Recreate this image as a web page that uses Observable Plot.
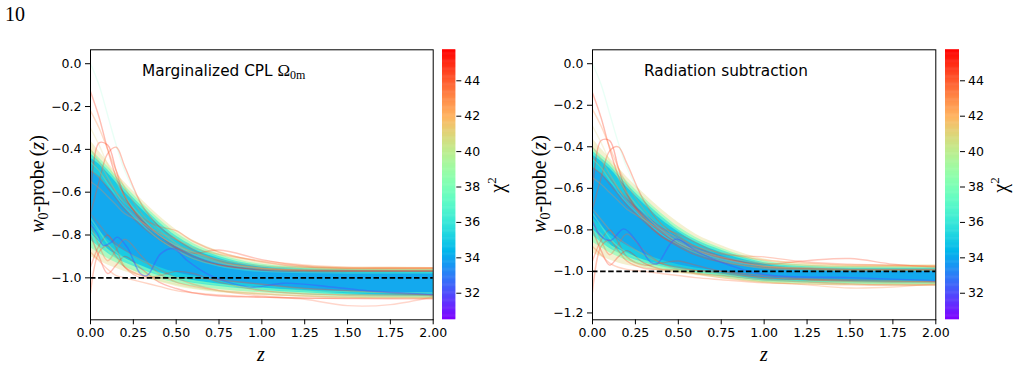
<!DOCTYPE html>
<html>
<head>
<meta charset="utf-8">
<script src="https://cdn.jsdelivr.net/npm/d3@7"></script>
<script src="https://cdn.jsdelivr.net/npm/@observablehq/plot@0.6"></script>
<style>
  body { margin: 0; background: #fff; }
  #page { position: relative; width: 1015px; height: 390px; overflow: hidden; background: #fff; }
  #page > svg { position: absolute; top: 0; }
</style>
</head>
<body>
<div id="page"></div>
<script>
// ---- shared grids and scales ----
const Z_GRID = [0, 0.05, 0.1, 0.15, 0.2, 0.3, 0.4, 0.5, 0.6, 0.75, 1.0, 1.25, 1.5, 1.75, 2.0];
const Z_TICKS = [0, 0.25, 0.5, 0.75, 1, 1.25, 1.5, 1.75, 2];
const CHI2_DOMAIN = [30.5, 45.75];
const CHI2_TICKS = [32, 34, 36, 38, 40, 42, 44];
const W_TICKS_CPL = [0, -0.2, -0.4, -0.6, -0.8, -1.0];
const W_TICKS_RAD = [0, -0.2, -0.4, -0.6, -0.8, -1.0, -1.2];

// density bands of the sample, outermost (worst fit) to innermost (best fit)
const BAND_CHI2 = [41, 38, 36, 34.8, 33.8];
const BAND_ALPHA = [0.35, 0.6, 0.75, 0.85, 0.8];

// ---- Marginalized CPL Omega_0m ----
const cplFringeHi = [-0.36, -0.41, -0.46, -0.51, -0.555, -0.635, -0.71, -0.775, -0.825, -0.875, -0.925, -0.944, -0.95, -0.951, -0.952];
const cplFringeLo = [-0.90, -0.92, -0.94, -0.955, -0.97, -0.995, -1.02, -1.04, -1.055, -1.07, -1.082, -1.09, -1.096, -1.098, -1.1];
const cplGreenHi  = [-0.40, -0.44, -0.48, -0.525, -0.57, -0.65, -0.725, -0.79, -0.84, -0.89, -0.937, -0.951, -0.957, -0.959, -0.96];
const cplGreenLo  = [-0.86, -0.885, -0.91, -0.93, -0.95, -0.98, -1.005, -1.025, -1.04, -1.055, -1.07, -1.08, -1.088, -1.092, -1.094];
const cplCyanHi   = [-0.42, -0.455, -0.495, -0.54, -0.585, -0.665, -0.74, -0.805, -0.852, -0.9, -0.944, -0.957, -0.962, -0.964, -0.965];
const cplCyanLo   = [-0.825, -0.855, -0.885, -0.91, -0.93, -0.962, -0.99, -1.01, -1.025, -1.04, -1.058, -1.07, -1.08, -1.085, -1.088];
const cplBlueHi   = [-0.44, -0.47, -0.51, -0.555, -0.60, -0.68, -0.755, -0.82, -0.865, -0.91, -0.95, -0.962, -0.966, -0.968, -0.969];
const cplBlueLo   = [-0.79, -0.83, -0.865, -0.89, -0.91, -0.945, -0.975, -0.997, -1.012, -1.03, -1.047, -1.062, -1.074, -1.08, -1.083];
const cplCoreHi   = [-0.50, -0.535, -0.575, -0.615, -0.655, -0.73, -0.795, -0.85, -0.89, -0.93, -0.962, -0.973, -0.977, -0.979, -0.98];
const cplCoreLo   = [-0.74, -0.78, -0.82, -0.85, -0.875, -0.915, -0.95, -0.975, -0.992, -1.012, -1.035, -1.052, -1.064, -1.07, -1.073];

const cplCurves = [
  {chi2: 44.5, alpha: 0.35, w: [-0.13, -0.25, -0.40, -0.53, -0.62, -0.74, -0.82, -0.87, -0.91, -0.94, -0.96, -0.965, -0.965, -0.965, -0.965]},
  {chi2: 37.5, alpha: 0.15, w: [0.0, -0.10, -0.24, -0.38, -0.50, -0.66, -0.77, -0.84, -0.89, -0.93, -0.96, -0.97, -0.975, -0.975, -0.975]},
  {chi2: 44.8, alpha: 0.35, w: [-0.62, -0.37, -0.38, -0.50, -0.62, -0.73, -0.80, -0.86, -0.90, -0.94, -0.965, -0.97, -0.97, -0.97, -0.97]},
  {chi2: 44.2, alpha: 0.35, w: [-0.70, -0.55, -0.42, -0.39, -0.48, -0.66, -0.76, -0.82, -0.87, -0.92, -0.955, -0.965, -0.968, -0.968, -0.968]},
  {chi2: 43.0, alpha: 0.3, w: [-0.22, -0.30, -0.40, -0.50, -0.58, -0.70, -0.78, -0.84, -0.88, -0.925, -0.955, -0.962, -0.963, -0.963, -0.963]},
  {chi2: 44.0, alpha: 0.3, w: [-0.45, -0.50, -0.55, -0.60, -0.64, -0.72, -0.76, -0.78, -0.83, -0.88, -0.925, -0.95, -0.955, -0.955, -0.955]},
  {chi2: 44.5, alpha: 0.3, w: [-0.50, -0.53, -0.58, -0.63, -0.68, -0.76, -0.82, -0.86, -0.885, -0.87, -0.915, -0.945, -0.955, -0.955, -0.955]},
  {chi2: 44.0, alpha: 0.35, w: [-1.07, -0.88, -0.85, -0.90, -0.95, -0.99, -1.0, -1.0, -1.0, -1.01, -1.03, -1.05, -1.06, -1.07, -1.08]},
  {chi2: 45.0, alpha: 0.3, w: [-0.80, -0.90, -0.98, -0.94, -0.90, -0.96, -1.02, -1.05, -1.07, -1.085, -1.09, -1.095, -1.097, -1.098, -1.098]},
  {chi2: 44.0, alpha: 0.25, w: [-0.70, -0.75, -0.80, -0.84, -0.87, -0.92, -0.96, -1.0, -1.03, -1.06, -1.085, -1.1, -1.13, -1.125, -1.088]},
  {chi2: 43.5, alpha: 0.3, w: [-0.88, -0.92, -0.96, -0.99, -1.0, -1.02, -1.04, -1.06, -1.07, -1.08, -1.09, -1.095, -1.095, -1.095, -1.095]},
  {chi2: 42.5, alpha: 0.3, w: [-0.40, -0.46, -0.53, -0.60, -0.66, -0.74, -0.80, -0.85, -0.88, -0.915, -0.945, -0.952, -0.955, -0.955, -0.955]},
  {chi2: 41.0, alpha: 0.25, w: [-0.30, -0.38, -0.47, -0.55, -0.62, -0.72, -0.80, -0.85, -0.89, -0.93, -0.955, -0.96, -0.96, -0.96, -0.96]},
  {chi2: 44.5, alpha: 0.3, w: [-0.95, -0.85, -0.80, -0.86, -0.95, -1.0, -0.99, -0.97, -0.98, -1.02, -1.06, -1.075, -1.08, -1.08, -1.08]},
  {chi2: 43.8, alpha: 0.3, w: [-0.75, -0.85, -0.92, -0.87, -0.82, -0.90, -0.98, -1.02, -1.04, -1.06, -1.075, -1.085, -1.09, -1.09, -1.09]},
  {chi2: 43.0, alpha: 0.3, w: [-0.55, -0.58, -0.62, -0.66, -0.70, -0.74, -0.79, -0.82, -0.86, -0.89, -0.92, -0.94, -0.95, -0.952, -0.953]},
  {chi2: 40.0, alpha: 0.3, w: [-0.78, -0.82, -0.87, -0.91, -0.94, -0.98, -1.01, -1.03, -1.045, -1.06, -1.075, -1.085, -1.09, -1.092, -1.092]},
  {chi2: 37.0, alpha: 0.35, w: [-0.46, -0.50, -0.56, -0.62, -0.67, -0.75, -0.82, -0.87, -0.91, -0.945, -0.97, -0.975, -0.978, -0.978, -0.978]},
  {chi2: 38.5, alpha: 0.35, w: [-0.72, -0.78, -0.84, -0.88, -0.91, -0.95, -0.98, -1.0, -1.015, -1.03, -1.05, -1.06, -1.065, -1.068, -1.07]},
  {chi2: 32.3, alpha: 0.5,
   z: [0, 0.04, 0.076, 0.12, 0.156, 0.214, 0.292, 0.331, 0.409, 0.486, 0.564, 0.681, 0.837, 0.953, 1.128, 1.42, 1.615, 2.0],
   w: [-0.75, -0.794, -0.849, -0.835, -0.81, -0.857, -0.981, -0.989, -0.888, -0.864, -0.919, -0.981, -1.028, -1.044, -1.025, -1.044, -1.06, -1.078]}
];

// ---- Radiation subtraction ----
const radFringeHi = [-0.36, -0.41, -0.455, -0.50, -0.545, -0.625, -0.70, -0.765, -0.82, -0.875, -0.94, -0.962, -0.968, -0.968, -0.968];
const radFringeLo = [-0.91, -0.93, -0.945, -0.96, -0.97, -0.985, -1.0, -1.01, -1.02, -1.035, -1.058, -1.065, -1.068, -1.07, -1.07];
const radGreenHi  = [-0.40, -0.44, -0.475, -0.52, -0.565, -0.645, -0.72, -0.785, -0.835, -0.888, -0.95, -0.97, -0.976, -0.977, -0.977];
const radGreenLo  = [-0.86, -0.885, -0.91, -0.93, -0.948, -0.972, -0.99, -1.003, -1.013, -1.028, -1.052, -1.058, -1.062, -1.064, -1.064];
const radCyanHi   = [-0.42, -0.455, -0.49, -0.535, -0.58, -0.66, -0.735, -0.80, -0.848, -0.898, -0.958, -0.978, -0.983, -0.984, -0.984];
const radCyanLo   = [-0.825, -0.86, -0.89, -0.91, -0.93, -0.958, -0.978, -0.994, -1.005, -1.02, -1.046, -1.052, -1.055, -1.057, -1.057];
const radBlueHi   = [-0.44, -0.47, -0.505, -0.55, -0.595, -0.675, -0.75, -0.81, -0.86, -0.91, -0.965, -0.985, -0.99, -0.99, -0.99];
const radBlueLo   = [-0.795, -0.835, -0.87, -0.893, -0.912, -0.945, -0.968, -0.985, -0.997, -1.012, -1.04, -1.045, -1.048, -1.05, -1.05];
const radCoreHi   = [-0.50, -0.53, -0.57, -0.61, -0.65, -0.72, -0.785, -0.835, -0.88, -0.925, -0.975, -0.993, -0.998, -1.0, -1.0];
const radCoreLo   = [-0.74, -0.78, -0.82, -0.85, -0.875, -0.915, -0.945, -0.968, -0.983, -1.0, -1.03, -1.038, -1.042, -1.044, -1.045];

const radCurves = [
  {chi2: 44.5, alpha: 0.35, w: [-0.14, -0.26, -0.41, -0.54, -0.63, -0.75, -0.83, -0.88, -0.92, -0.955, -0.98, -0.99, -0.995, -0.995, -0.995]},
  {chi2: 37.5, alpha: 0.15, w: [0.0, -0.10, -0.24, -0.38, -0.50, -0.66, -0.77, -0.85, -0.90, -0.945, -0.98, -0.99, -0.995, -0.995, -0.995]},
  {chi2: 44.8, alpha: 0.35, w: [-0.62, -0.37, -0.37, -0.50, -0.62, -0.74, -0.81, -0.87, -0.91, -0.95, -0.985, -0.99, -0.995, -0.995, -0.995]},
  {chi2: 44.2, alpha: 0.35, w: [-0.70, -0.55, -0.42, -0.40, -0.48, -0.66, -0.77, -0.83, -0.88, -0.93, -0.975, -0.985, -0.99, -0.99, -0.99]},
  {chi2: 43.0, alpha: 0.3, w: [-0.22, -0.30, -0.40, -0.50, -0.58, -0.70, -0.79, -0.85, -0.89, -0.935, -0.975, -0.985, -0.99, -0.99, -0.99]},
  {chi2: 44.0, alpha: 0.3, w: [-0.45, -0.50, -0.55, -0.60, -0.65, -0.73, -0.79, -0.82, -0.86, -0.915, -0.93, -0.955, -0.965, -0.97, -0.975]},
  {chi2: 44.5, alpha: 0.3, w: [-0.50, -0.53, -0.58, -0.63, -0.68, -0.76, -0.83, -0.87, -0.90, -0.935, -0.965, -0.948, -0.938, -0.965, -0.98]},
  {chi2: 44.0, alpha: 0.35, w: [-1.10, -0.88, -0.85, -0.90, -0.95, -0.985, -0.99, -0.99, -0.995, -1.0, -1.02, -1.035, -1.04, -1.045, -1.05]},
  {chi2: 45.0, alpha: 0.3, w: [-0.80, -0.90, -0.97, -0.93, -0.90, -0.96, -0.99, -1.0, -1.01, -1.02, -1.04, -1.05, -1.06, -1.065, -1.065]},
  {chi2: 43.0, alpha: 0.3, w: [-0.70, -0.75, -0.80, -0.84, -0.87, -0.92, -0.96, -0.99, -1.01, -1.03, -1.05, -1.065, -1.08, -1.075, -1.06]},
  {chi2: 43.5, alpha: 0.3, w: [-0.88, -0.92, -0.96, -0.98, -0.99, -1.0, -1.01, -1.02, -1.03, -1.04, -1.055, -1.06, -1.065, -1.065, -1.065]},
  {chi2: 42.5, alpha: 0.3, w: [-0.40, -0.46, -0.53, -0.60, -0.66, -0.74, -0.81, -0.86, -0.895, -0.93, -0.96, -0.97, -0.975, -0.975, -0.975]},
  {chi2: 41.0, alpha: 0.25, w: [-0.30, -0.38, -0.47, -0.55, -0.62, -0.72, -0.80, -0.86, -0.90, -0.94, -0.975, -0.98, -0.98, -0.98, -0.98]},
  {chi2: 44.5, alpha: 0.3, w: [-0.95, -0.85, -0.80, -0.86, -0.93, -0.97, -0.96, -0.95, -0.97, -1.0, -1.03, -1.04, -1.045, -1.05, -1.05]},
  {chi2: 43.8, alpha: 0.3, w: [-0.75, -0.85, -0.92, -0.87, -0.82, -0.90, -0.96, -0.98, -0.995, -1.01, -1.03, -1.04, -1.05, -1.055, -1.055]},
  {chi2: 43.0, alpha: 0.3, w: [-0.55, -0.58, -0.62, -0.66, -0.70, -0.75, -0.80, -0.84, -0.88, -0.91, -0.945, -0.96, -0.97, -0.972, -0.973]},
  {chi2: 40.0, alpha: 0.3, w: [-0.78, -0.82, -0.87, -0.91, -0.94, -0.975, -0.99, -1.0, -1.01, -1.025, -1.05, -1.058, -1.062, -1.064, -1.065]},
  {chi2: 37.0, alpha: 0.35, w: [-0.46, -0.50, -0.56, -0.62, -0.67, -0.75, -0.82, -0.87, -0.91, -0.95, -0.985, -0.992, -0.995, -0.995, -0.995]},
  {chi2: 38.5, alpha: 0.35, w: [-0.72, -0.78, -0.84, -0.88, -0.91, -0.95, -0.975, -0.99, -1.0, -1.015, -1.04, -1.048, -1.052, -1.055, -1.056]},
  {chi2: 32.3, alpha: 0.5,
   z: [0, 0.047, 0.105, 0.182, 0.26, 0.338, 0.377, 0.483, 0.6, 0.72, 1.0, 1.5, 2.0],
   w: [-0.76, -0.827, -0.851, -0.795, -0.859, -0.955, -0.963, -0.845, -0.9, -0.947, -1.015, -1.03, -1.045]}
];

// matplotlib "rainbow" colormap
const rainbow = t => {
  const r = Math.min(1, Math.abs(2 * t - 0.5));
  const g = Math.max(0, Math.sin(Math.PI * t));
  const b = Math.max(0, Math.cos(Math.PI * t / 2));
  return `rgb(${Math.round(r * 255)},${Math.round(g * 255)},${Math.round(b * 255)})`;
};
const colorOptions = {type: "linear", domain: CHI2_DOMAIN, interpolate: rainbow};
const fmt2 = d3.format(".2f");
const fmt1 = d3.format(".1f");
const axisStyle = {fontFamily: "DejaVu Sans", fontSize: "12.5px", color: "black", background: "transparent"};

const TOP = 49.3, BOTTOM = 319.3, H = 390;

function panel({left, width, plotLeft, plotRight, yDomain, yTicks, bands, curves}) {
  const marks = [];
  bands.forEach((b, k) => {
    const rows = Z_GRID.map((z, i) => ({z, lo: b.lo[i], hi: b.hi[i], chi2: BAND_CHI2[k]}));
    marks.push(Plot.area(rows, {x1: "z", y1: "lo", y2: "hi", fill: "chi2", fillOpacity: BAND_ALPHA[k], curve: "monotone-x"}));
  });
  const rows = curves.flatMap((c, id) => (c.z ?? Z_GRID).map((z, i) => ({id, z, w: c.w[i], chi2: c.chi2, alpha: c.alpha})));
  marks.push(Plot.line(rows, {x: "z", y: "w", z: "id", stroke: "chi2", strokeOpacity: "alpha", strokeWidth: 1.4, curve: "catmull-rom", clip: true}));
  marks.push(Plot.ruleY([-1], {stroke: "black", strokeWidth: 1.6, strokeDasharray: "5.5,2.6"}));
  marks.push(Plot.frame({stroke: "black", strokeWidth: 1}));
  const svg = Plot.plot({
    width, height: H,
    marginLeft: plotLeft - left, marginRight: left + width - plotRight,
    marginTop: TOP, marginBottom: H - BOTTOM,
    style: axisStyle,
    x: {domain: [0, 2], ticks: Z_TICKS, tickFormat: fmt2, tickSize: 5, tickPadding: 3, label: null},
    y: {domain: yDomain, ticks: yTicks, tickFormat: fmt1, tickSize: 5, tickPadding: 4, label: null},
    color: colorOptions,
    marks
  });
  svg.style.left = left + "px";
  return svg;
}

function colorbar(left, barWidth) {
  const width = 70;
  const step = 0.05;
  const stops = d3.range(CHI2_DOMAIN[0], CHI2_DOMAIN[1], step);
  const svg = Plot.plot({
    width, height: H,
    marginLeft: 0, marginRight: width - barWidth,
    marginTop: TOP, marginBottom: H - BOTTOM,
    style: axisStyle,
    x: {domain: [0, 1], axis: null},
    y: {domain: CHI2_DOMAIN, ticks: CHI2_TICKS, tickFormat: "d", axis: "right", tickSize: 5, tickPadding: 3.5, label: null},
    color: colorOptions,
    marks: [
      Plot.rect(stops, {x1: 0, x2: 1, y1: d => d, y2: d => Math.min(d + step * 1.6, CHI2_DOMAIN[1]), fill: d => Math.min(d + step / 2, CHI2_DOMAIN[1])})
    ]
  });
  svg.style.left = left + "px";
  return svg;
}

const page = document.getElementById("page");

const cplBands = [
  {hi: cplFringeHi, lo: cplFringeLo}, {hi: cplGreenHi, lo: cplGreenLo}, {hi: cplCyanHi, lo: cplCyanLo},
  {hi: cplBlueHi, lo: cplBlueLo}, {hi: cplCoreHi, lo: cplCoreLo}
];
const radBands = [
  {hi: radFringeHi, lo: radFringeLo}, {hi: radGreenHi, lo: radGreenLo}, {hi: radCyanHi, lo: radCyanLo},
  {hi: radBlueHi, lo: radBlueLo}, {hi: radCoreHi, lo: radCoreLo}
];

// panels are wider than their frames so the last tick label has room; colorbars sit on top
page.appendChild(panel({left: 0, width: 470, plotLeft: 90, plotRight: 432.7, yDomain: [-1.196, 0.065], yTicks: W_TICKS_CPL, bands: cplBands, curves: cplCurves}));
page.appendChild(panel({left: 500, width: 475, plotLeft: 592, plotRight: 935.3, yDomain: [-1.233, 0.067], yTicks: W_TICKS_RAD, bands: radBands, curves: radCurves}));
page.appendChild(colorbar(442, 13.3));
page.appendChild(colorbar(944.7, 14));

// labels and titles
const overlay = d3.select(page).append("svg")
  .attr("width", 1015).attr("height", H)
  .style("left", "0px").style("pointer-events", "none");

const serif = "Liberation Serif";
overlay.append("text").attr("x", 5).attr("y", 21)
  .attr("font-family", serif).attr("font-size", 20).text("10");

function yLabel(cx) {
  const t = overlay.append("text")
    .attr("transform", `translate(${cx},184) rotate(-90)`)
    .attr("text-anchor", "middle").attr("font-family", serif).attr("font-size", 20);
  t.append("tspan").attr("font-style", "italic").text("w");
  t.append("tspan").attr("font-size", 14).attr("dy", 4).text("0");
  t.append("tspan").attr("dy", -4).text("-probe\u2009(");
  t.append("tspan").attr("font-style", "italic").text("z");
  t.append("tspan").text(")");
}
function zLabel(cx) {
  overlay.append("text").attr("x", cx).attr("y", 361).attr("text-anchor", "middle")
    .attr("font-family", serif).attr("font-style", "italic").attr("font-size", 20).text("z");
}
function chiLabel(cx) {
  const t = overlay.append("text")
    .attr("transform", `translate(${cx},185) rotate(-90)`)
    .attr("text-anchor", "middle").attr("font-family", serif).attr("font-size", 20);
  t.append("tspan").text("\u03c7");
  t.append("tspan").attr("font-size", 13).attr("dy", -8).text("2");
}
yLabel(44); yLabel(546);
zLabel(261); zLabel(764);
chiLabel(504); chiLabel(1007);

const t1 = overlay.append("text").attr("x", 142).attr("y", 75.5)
  .attr("font-family", "DejaVu Sans").attr("font-size", 15.3);
t1.append("tspan").text("Marginalized CPL ");
t1.append("tspan").attr("font-family", serif).attr("font-size", 17).text("\u03a9");
t1.append("tspan").attr("font-family", serif).attr("font-size", 12).attr("dy", 3).text("0m");

overlay.append("text").attr("x", 644).attr("y", 75.5)
  .attr("font-family", "DejaVu Sans").attr("font-size", 15.3).text("Radiation subtraction");
</script>
</body>
</html>
